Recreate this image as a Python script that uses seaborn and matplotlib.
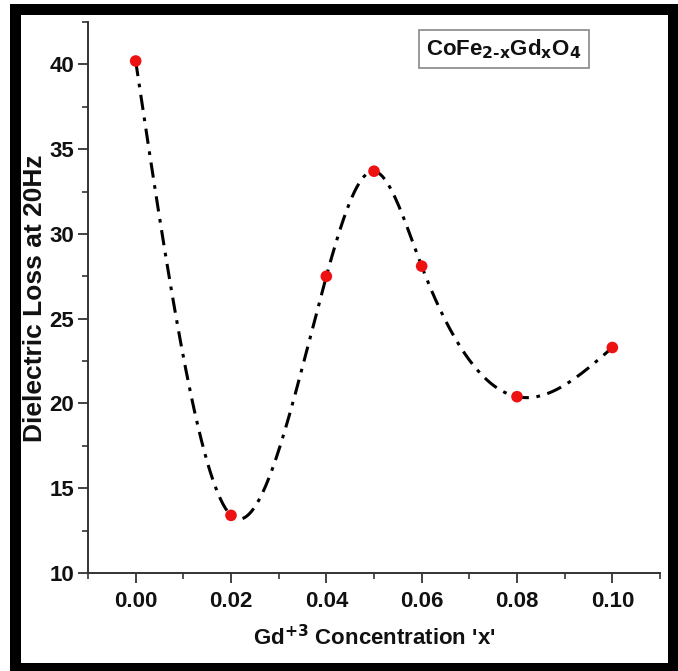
import numpy as np
import pandas as pd
import matplotlib
matplotlib.use("Agg")
import matplotlib.pyplot as plt
from matplotlib.patches import Rectangle
from matplotlib.ticker import MultipleLocator
import seaborn as sns

# ---- data ----
conc = [0.00, 0.02, 0.04, 0.05, 0.06, 0.08, 0.10]
loss = [40.2, 13.4, 27.5, 33.7, 28.1, 20.4, 23.3]
xticks = [0.00, 0.02, 0.04, 0.06, 0.08, 0.10]
xticklabels = ["0.00", "0.02", "0.04", "0.06", "0.08", "0.10"]
yticks = [10, 15, 20, 25, 30, 35, 40]
xlabel = "Gd$^{+3}$ Concentration 'x'"
ylabel = "Dielectric Loss at 20Hz"
legend_text = "CoFe$_{2\\text{-}x}$Gd$_x$O$_4$"

sns.set_theme(style="white")
plt.rcParams["font.family"] = ["Liberation Sans Narrow", "Liberation Sans", "DejaVu Sans"]
plt.rcParams["mathtext.fontset"] = "custom"
plt.rcParams["mathtext.rm"] = "Liberation Sans Narrow:bold"
plt.rcParams["mathtext.bf"] = "Liberation Sans Narrow:bold"
plt.rcParams["mathtext.it"] = "Liberation Sans Narrow:bold"
plt.rcParams["mathtext.default"] = "bf"


def natural_spline(x, y, xs):
    x = np.asarray(x, float); y = np.asarray(y, float)
    n = len(x)
    h = np.diff(x)
    A = np.zeros((n, n)); b = np.zeros(n)
    A[0, 0] = 1; A[-1, -1] = 1
    for i in range(1, n - 1):
        A[i, i - 1] = h[i - 1]
        A[i, i] = 2 * (h[i - 1] + h[i])
        A[i, i + 1] = h[i]
        b[i] = 3 * ((y[i + 1] - y[i]) / h[i] - (y[i] - y[i - 1]) / h[i - 1])
    c = np.linalg.solve(A, b)
    out = np.empty_like(xs)
    for k, xv in enumerate(xs):
        i = min(max(np.searchsorted(x, xv) - 1, 0), n - 2)
        dx = xv - x[i]
        bi = (y[i + 1] - y[i]) / h[i] - h[i] * (2 * c[i] + c[i + 1]) / 3
        di = (c[i + 1] - c[i]) / (3 * h[i])
        out[k] = y[i] + bi * dx + c[i] * dx ** 2 + di * dx ** 3
    return out


xs = np.linspace(conc[0], conc[-1], 400)
curve = pd.DataFrame({"x": xs, "y": natural_spline(conc, loss, xs)})
pts = pd.DataFrame({"x": conc, "y": loss})

W, H = 678, 671
fig = plt.figure(figsize=(W / 100, H / 100), dpi=100)
fig.patch.set_facecolor("white")
ax = fig.add_axes([88 / W, 1 - 573 / H, (660 - 88) / W, (573 - 22) / H])
ax.set_facecolor("white")

sns.lineplot(data=curve, x="x", y="y", ax=ax, color="black", linewidth=2.2, sort=False)
ax.lines[-1].set_dashes([5, 2.5, 1.2, 2.5])
sns.scatterplot(data=pts, x="x", y="y", ax=ax, color="#ee1111", s=70, edgecolor="none", zorder=5)

ax.set_xlim(-0.01, 0.11)
ax.set_ylim(10, 42.5)
ax.set_xticks(xticks)
ax.set_xticklabels(xticklabels)
ax.set_yticks(yticks)
ax.xaxis.set_minor_locator(MultipleLocator(0.01))
ax.yaxis.set_minor_locator(MultipleLocator(2.5))
ax.tick_params(axis="both", which="major", direction="out", length=7, width=1.3,
               color="#333333", labelsize=16)
ax.tick_params(axis="both", which="minor", direction="out", length=4, width=1.2,
               color="#333333")
ax.tick_params(bottom=True, left=True, which="both")
ax.xaxis.set_tick_params(which="major", pad=6)
ax.yaxis.set_tick_params(which="major", pad=3)
for lab in ax.get_xticklabels() + ax.get_yticklabels():
    lab.set_fontweight("bold")
    lab.set_color("#111111")

for s in ["top", "right"]:
    ax.spines[s].set_visible(False)
for s in ["left", "bottom"]:
    ax.spines[s].set_color("#333333")
    ax.spines[s].set_linewidth(1.4)

ax.set_xlabel(xlabel, fontsize=16, fontweight="bold", color="#111111",
              family=["Liberation Sans", "DejaVu Sans"])
ax.set_ylabel(ylabel, fontsize=19, fontweight="bold", color="#111111",
              family=["Liberation Sans", "DejaVu Sans"])
ax.xaxis.set_label_coords((374 - 88) / 572, -(625 - 573) / 551)
ax.yaxis.set_label_coords(-(88 - 47) / 572, (573 - 298) / 551)

fig.text(504 / W, 1 - 49 / H, legend_text, fontsize=16, fontweight="bold",
         ha="center", va="center", color="#111111",
         bbox=dict(boxstyle="square,pad=0.33", facecolor="white",
                   edgecolor="#888888", linewidth=1.2))

# black frame around figure
for (x0, y0, x1, y1) in [(10, 4, 678, 15), (10, 4, 21, 671), (668, 4, 678, 671), (10, 663, 678, 671)]:
    fig.patches.append(Rectangle((x0 / W, 1 - y1 / H), (x1 - x0) / W, (y1 - y0) / H,
                                 transform=fig.transFigure, facecolor="black",
                                 edgecolor="none", zorder=10))

fig.savefig("out.png", dpi=100)
